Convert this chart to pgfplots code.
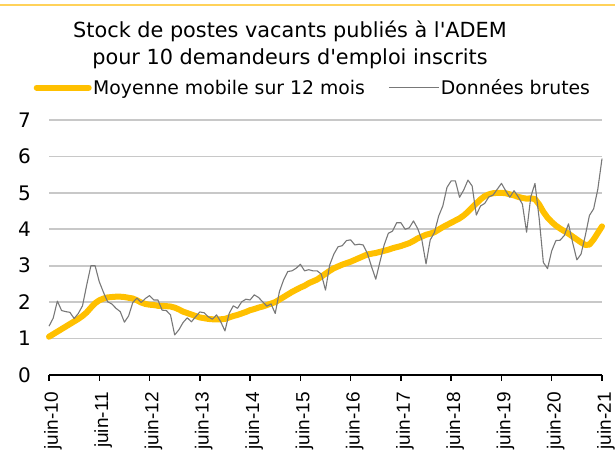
\documentclass[border=0pt]{standalone}
\usepackage{fontspec}
\setmainfont{DejaVu Sans}
\newfontfamily\tahoma{DejaVu Sans}
\newfontfamily\arialfont{Liberation Sans}
\usepackage{pgfplots}
\pgfplotsset{compat=1.18}
\usepackage{pgfplotstable}
\definecolor{ademyellow}{RGB}{255,192,0}
\definecolor{rawgray}{RGB}{120,120,120}
\definecolor{gridgray}{RGB}{200,200,200}
\definecolor{topline}{RGB}{255,210,90}
\pgfplotsset{
  yellowleg/.style={legend image code/.code={\draw[##1] (0bp,0bp) -- (52bp,0bp);}},
  grayleg/.style={legend image code/.code={\draw[##1] (0bp,0bp) -- (50bp,0bp);}},
}

\pgfplotstableread{
m raw
0 1.34
1 1.56
2 2.03
3 1.77
4 1.74
5 1.72
6 1.55
7 1.69
8 1.90
9 2.47
10 3.00
11 3.00
12 2.56
13 2.27
14 2.01
15 1.95
16 1.83
17 1.74
18 1.45
19 1.62
20 1.99
21 2.11
22 1.99
23 2.10
24 2.18
25 2.06
26 2.06
27 1.78
28 1.77
29 1.65
30 1.10
31 1.24
32 1.44
33 1.57
34 1.46
35 1.60
36 1.73
37 1.71
38 1.60
39 1.53
40 1.65
41 1.46
42 1.21
43 1.69
44 1.90
45 1.83
46 2.01
47 2.08
48 2.06
49 2.20
50 2.13
51 2.01
52 1.89
53 1.95
54 1.69
55 2.29
56 2.61
57 2.84
58 2.86
59 2.93
60 3.04
61 2.86
62 2.89
63 2.86
64 2.86
65 2.77
66 2.33
67 3.02
68 3.32
69 3.52
70 3.55
71 3.69
72 3.71
73 3.57
74 3.59
75 3.57
76 3.34
77 2.97
78 2.63
79 3.11
80 3.57
81 3.89
82 3.95
83 4.18
84 4.18
85 4.00
86 4.04
87 4.23
88 4.02
89 3.71
90 3.05
91 3.71
92 3.91
93 4.36
94 4.64
95 5.15
96 5.33
97 5.33
98 4.88
99 5.08
100 5.35
101 5.19
102 4.39
103 4.64
104 4.71
105 4.89
106 4.94
107 5.10
108 5.26
109 5.06
110 4.88
111 5.06
112 4.89
113 4.69
114 3.92
115 4.89
116 5.26
117 4.30
118 3.09
119 2.92
120 3.41
121 3.69
122 3.70
123 3.83
124 4.15
125 3.63
126 3.16
127 3.32
128 3.82
129 4.38
130 4.56
131 5.10
132 5.94
}\rawdata

\pgfplotstableread{
m ma
0 1.05
1 1.12
2 1.19
3 1.26
4 1.33
5 1.40
6 1.47
7 1.54
8 1.62
9 1.72
10 1.85
11 1.97
12 2.05
13 2.10
14 2.13
15 2.14
16 2.15
17 2.15
18 2.14
19 2.12
20 2.10
21 2.05
22 1.99
23 1.95
24 1.93
25 1.92
26 1.90
27 1.90
28 1.89
29 1.88
30 1.85
31 1.80
32 1.74
33 1.70
34 1.66
35 1.62
36 1.58
37 1.56
38 1.54
39 1.53
40 1.53
41 1.53
42 1.54
43 1.58
44 1.62
45 1.65
46 1.69
47 1.73
48 1.78
49 1.81
50 1.85
51 1.88
52 1.92
53 1.96
54 2.00
55 2.07
56 2.14
57 2.21
58 2.28
59 2.34
60 2.40
61 2.45
62 2.52
63 2.57
64 2.62
65 2.70
66 2.78
67 2.86
68 2.93
69 2.98
70 3.03
71 3.07
72 3.11
73 3.16
74 3.21
75 3.26
76 3.31
77 3.33
78 3.35
79 3.38
80 3.41
81 3.44
82 3.48
83 3.51
84 3.54
85 3.58
86 3.62
87 3.68
88 3.75
89 3.80
90 3.85
91 3.88
92 3.92
93 3.99
94 4.06
95 4.12
96 4.18
97 4.24
98 4.30
99 4.38
100 4.48
101 4.60
102 4.71
103 4.82
104 4.91
105 4.96
106 4.99
107 5.00
108 5.00
109 4.99
110 4.96
111 4.93
112 4.89
113 4.86
114 4.84
115 4.85
116 4.83
117 4.68
118 4.48
119 4.32
120 4.20
121 4.10
122 4.02
123 3.95
124 3.88
125 3.80
126 3.72
127 3.64
128 3.57
129 3.58
130 3.72
131 3.90
132 4.08
}\madata

\begin{document}
\begin{tikzpicture}
\begin{axis}[
  scale only axis,
  width=553bp, height=255bp,
  xmin=0, xmax=132, ymin=0, ymax=7,
  clip=false,
  axis x line*=bottom,
  axis y line*=left,
  y axis line style={opacity=0},
  x axis line style={line width=1.6bp, black},
  xtick={0,12,24,36,48,60,72,84,96,108,120,132},
  xticklabels={juin-10,juin-11,juin-12,juin-13,juin-14,juin-15,juin-16,juin-17,juin-18,juin-19,juin-20,juin-21},
  xtick style={line width=1.4bp, black, yshift=-5.5bp},
  ytick style={gridgray, line width=1.6bp},
  major tick length=5.5bp,
  xticklabel style={xshift=4bp, yshift=-17bp, rotate=90, anchor=east, font=\arialfont\fontsize{19bp}{22bp}\selectfont, inner sep=0pt},
  ytick={0,1,2,3,4,5,6,7},
  yticklabel style={anchor=east, font=\tahoma\fontsize{20bp}{24bp}\selectfont, inner sep=0pt, xshift=-18bp},
  /pgf/number format/assume math mode=true,
  ymajorgrids=true,
  major grid style={draw=gridgray, line width=1.6bp},
  legend columns=2,
  legend style={draw=none, fill=none, inner sep=0pt,
    at={(axis description cs:-0.028,1.127)}, anchor=west,
    font=\tahoma\fontsize{18.8bp}{22bp}\selectfont,
    nodes={inner sep=1.5bp},
    /tikz/every even column/.append style={column sep=22bp}},
]
\pgfplotsinvokeforeach{1,2,3,4,5,6,7}{
  \draw[draw=gridgray, line width=1.6bp] (axis cs:0,#1) -- (axis cs:132,#1);
}
\addplot[ademyellow, line width=6bp, line cap=round, line join=round, yellowleg]
  table[x=m, y=ma] {\madata};
\addlegendentry{Moyenne mobile sur 12 mois}
\addplot[rawgray, line width=1.1bp, line join=round, grayleg]
  table[x=m, y=raw] {\rawdata};
\addlegendentry{Données brutes}
\end{axis}
\draw[draw=topline, line width=2bp] (-49bp,369.5bp) -- (566bp,369.5bp);
\node[anchor=base, font=\tahoma\fontsize{20.8bp}{26bp}\selectfont, inner sep=0pt] at (241bp,337.5bp) {Stock de postes vacants publiés à l'ADEM};
\node[anchor=base, font=\tahoma\fontsize{20.8bp}{26bp}\selectfont, inner sep=0pt] at (241bp,310.2bp) {pour 10 demandeurs d'emploi inscrits};
\pgfresetboundingbox
\path[use as bounding box] (-49bp,-79bp) rectangle (566bp,375bp);
\end{tikzpicture}
\end{document}
